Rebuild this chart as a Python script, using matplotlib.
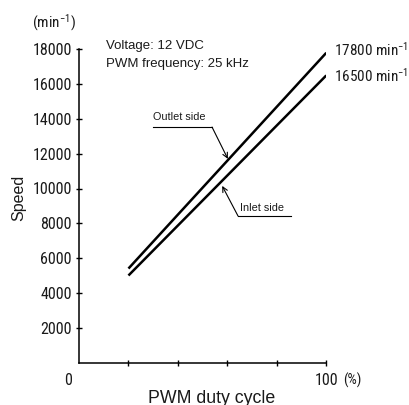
import numpy as np
import matplotlib
matplotlib.use("Agg")
import matplotlib.pyplot as plt

# data
duty = [20, 100]                  # PWM duty cycle (%)
outlet_speed = [5400, 17800]      # min^-1
inlet_speed = [5000, 16500]
y_ticks = [2000, 4000, 6000, 8000, 10000, 12000, 14000, 16000, 18000]
x_ticks = [20, 40, 60, 80, 100]
end_labels = ["17800 min$^{-1}$", "16500 min$^{-1}$"]
info_lines = ["Voltage: 12 VDC", "PWM frequency: 25 kHz"]

NARROW = "Roboto Condensed"
REG = "Liberation Sans"

plt.rcParams["font.family"] = [REG, "DejaVu Sans"]
plt.rcParams["mathtext.fontset"] = "custom"
plt.rcParams["mathtext.rm"] = NARROW
plt.rcParams["mathtext.it"] = NARROW
TXT = "#1a1a1a"

W, H = 410, 405
fig = plt.figure(figsize=(W / 100, H / 100), dpi=100)
ax = fig.add_axes([79 / W, 42.5 / H, (326.3 - 79) / W, (362.5 - 49.3) / H])

ax.plot(duty, outlet_speed, color="black", lw=1.8, solid_capstyle="butt")
ax.plot(duty, inlet_speed, color="black", lw=1.8, solid_capstyle="butt")

ax.set_xlim(0, 100)
ax.set_ylim(0, 18000)
for s in ["top", "right"]:
    ax.spines[s].set_visible(False)
for s in ["left", "bottom"]:
    ax.spines[s].set_linewidth(1.1)
    ax.spines[s].set_color("black")

ax.set_yticks(y_ticks)
ax.set_yticklabels([str(v) for v in y_ticks], fontfamily=NARROW, fontsize=11.5, color=TXT)
ax.set_xticks(x_ticks)
ax.set_xticklabels([])
ax.tick_params(axis="y", direction="inout", length=4.5, width=1, pad=3)
ax.tick_params(axis="x", direction="inout", length=4.5, width=1)

# axis ends
ax.text(-4.6, -1290, "0", fontfamily=NARROW, fontsize=11.5, color=TXT,
        ha="center", va="baseline", clip_on=False)
ax.text(100, -1290, "100", fontfamily=NARROW, fontsize=11.5, color=TXT,
        ha="center", va="baseline", clip_on=False)
ax.text(106.8, -1290, "(%)", fontfamily=NARROW, fontsize=10.5, color=TXT,
        ha="left", va="baseline", clip_on=False)
ax.text(-10.1, 19510, "(min$^{-1}$)", fontfamily=NARROW, fontsize=11, color=TXT,
        ha="center", va="center", clip_on=False)

ax.set_ylabel("Speed", fontsize=11.5, color=TXT)
ax.yaxis.set_label_coords(-0.212, 0.525)
ax.text(53.5, -1600, "PWM duty cycle", fontsize=12.8, color=TXT,
        ha="center", va="top", clip_on=False)

# test conditions
ax.text(10.9, 18000, info_lines[0], fontsize=9.5, color=TXT, ha="left", va="baseline")
ax.text(10.9, 17000, info_lines[1], fontsize=9.5, color=TXT, ha="left", va="baseline")

# end-of-line values
ax.text(103.1, 17614, end_labels[0], fontfamily=NARROW, fontsize=11,
        color=TXT, ha="left", va="baseline", clip_on=False)
ax.text(103.1, 16137, end_labels[1], fontfamily=NARROW, fontsize=11,
        color=TXT, ha="left", va="baseline", clip_on=False)

# callouts
ax.plot([30, 53.8], [13530, 13530], color="black", lw=0.8)
ax.annotate("", xy=(60.2, 11700), xytext=(53.8, 13530),
            arrowprops=dict(arrowstyle="->", color="black", lw=0.8,
                            shrinkA=0, shrinkB=0, mutation_scale=9))
ax.text(30, 13937, "Outlet side", fontsize=7.8, color=TXT, ha="left", va="baseline")

ax.plot([64.3, 85.7], [8420, 8420], color="black", lw=0.8)
ax.annotate("", xy=(57.9, 10150), xytext=(64.3, 8420),
            arrowprops=dict(arrowstyle="->", color="black", lw=0.8,
                            shrinkA=0, shrinkB=0, mutation_scale=9))
ax.text(65.1, 8707, "Inlet side", fontsize=7.8, color=TXT, ha="left", va="baseline")

fig.savefig("out.png", dpi=100)
